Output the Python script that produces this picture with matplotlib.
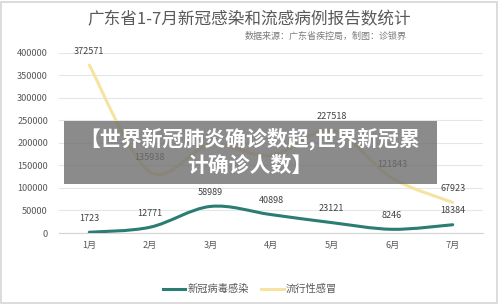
import matplotlib
matplotlib.use("Agg")
import matplotlib.pyplot as plt
from matplotlib.path import Path
from matplotlib.patches import PathPatch, Rectangle
from matplotlib.lines import Line2D

plt.rcParams['font.family'] = ['Noto Sans CJK SC', 'DejaVu Sans']

# data
months = ['1月', '2月', '3月', '4月', '5月', '6月', '7月']
covid = [1723, 12771, 58989, 40898, 23121, 8246, 18384]
flu = [372571, 135938, 195978, 172000, 227518, 121843, 67923]
# labels hidden under the banner are not shown
flu_labels = ['372571', '135938', '', '', '227518', '121843', '67923']
covid_labels = [str(v) for v in covid]

title = '广东省1-7月新冠感染和流感病例报告数统计'
subtitle = '数据来源：广东省疾控局，制图：诊锁界'
banner = '【世界新冠肺炎确诊数超,世界新冠累\n计确诊人数】'

teal = '#2b7c72'
yellow = '#f6e3a1'
grey_txt = '#595959'


def smooth_path(xs, ys):
    # catmull-rom style bezier, like the office "smoothed line"
    n = len(xs)
    verts = [(xs[0], ys[0])]
    codes = [Path.MOVETO]
    for i in range(n - 1):
        a = i - 1 if i > 0 else i
        d = i + 2 if i + 2 < n else i + 1
        c1 = (xs[i] + (xs[i + 1] - xs[a]) / 6.0, ys[i] + (ys[i + 1] - ys[a]) / 6.0)
        c2 = (xs[i + 1] - (xs[d] - xs[i]) / 6.0, ys[i + 1] - (ys[d] - ys[i]) / 6.0)
        verts += [c1, c2, (xs[i + 1], ys[i + 1])]
        codes += [Path.CURVE4] * 3
    return Path(verts, codes)


fig = plt.figure(figsize=(5, 3.05), dpi=100)
ax = fig.add_axes([0.118, 0.236, 0.848, 0.591])

x = list(range(len(months)))
ax.add_patch(PathPatch(smooth_path(x, flu), fill=False, edgecolor=yellow,
                       lw=2.2, capstyle='round', zorder=3))
ax.add_patch(PathPatch(smooth_path(x, covid), fill=False, edgecolor=teal,
                       lw=2.2, capstyle='round', zorder=4))

for i in x:
    if flu_labels[i]:
        ax.annotate(flu_labels[i], (i, flu[i]), xytext=(0, 10), textcoords='offset points',
                    ha='center', va='center', fontsize=6.5, color='#404040')
    ax.annotate(covid_labels[i], (i, covid[i]), xytext=(0, 10), textcoords='offset points',
                ha='center', va='center', fontsize=6.5, color='#404040')

ax.set_xlim(-0.5, 6.5)
ax.set_ylim(0, 400000)
ax.set_yticks(range(0, 400001, 50000))
ax.set_yticklabels([str(v) for v in range(0, 400001, 50000)])
ax.set_xticks(x)
ax.set_xticklabels(months)
ax.tick_params(axis='both', length=0, labelsize=6.6, colors=grey_txt)
ax.tick_params(axis='y', pad=8)
ax.tick_params(axis='x', pad=6)
ax.grid(axis='y', color='#e2e8e8', lw=0.8)
ax.set_axisbelow(True)
for s in ['top', 'right', 'left']:
    ax.spines[s].set_visible(False)
ax.spines['bottom'].set_color('#d4d4d4')
ax.spines['bottom'].set_linewidth(0.8)

fig.text(0.498, 0.934, title, ha='center', va='center', fontsize=12, color=grey_txt)
fig.text(0.814, 0.882, subtitle, ha='right', va='center', fontsize=6.5, color='#7a7a7a')

handles = [Line2D([], [], color=teal, lw=2.2), Line2D([], [], color=yellow, lw=2.2)]
fig.legend(handles, ['新冠病毒感染', '流行性感冒'], loc='center', bbox_to_anchor=(0.5, 0.052),
           ncol=2, frameon=False, fontsize=7.4, handlelength=2.2, handletextpad=0.2,
           columnspacing=1.2, labelcolor=grey_txt)

# grey banner laid over the chart
fig.patches.append(Rectangle((0.128, 0.397), 0.746, 0.206, transform=fig.transFigure,
                             facecolor='#6e6e6e', alpha=0.8, edgecolor='none', zorder=10))
fig.text(0.5, 0.502, banner, ha='center', va='center', fontsize=15, fontweight='bold',
         color='white', linespacing=1.3, zorder=11)

# thin frame round the picture
fig.patches.append(Rectangle((0.002, 0.005), 0.992, 0.99, transform=fig.transFigure,
                             facecolor='none', edgecolor='#d6d6d6', lw=1.2, zorder=12))

fig.savefig('out.png', dpi=100)
